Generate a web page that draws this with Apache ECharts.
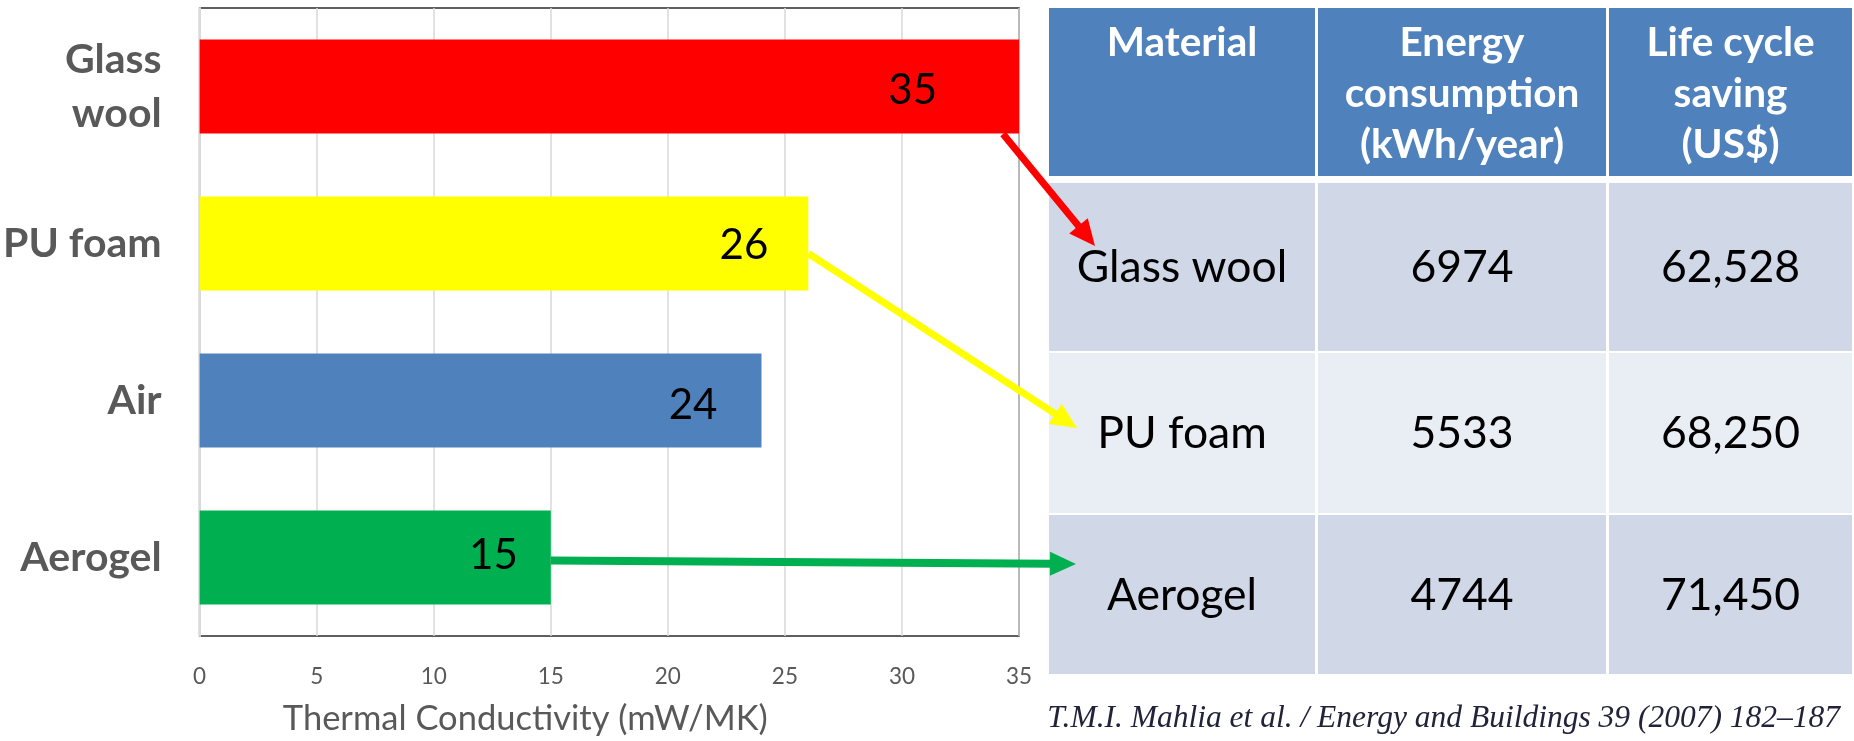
<!DOCTYPE html>
<html>
<head>
<meta charset="utf-8">
<title>Thermal conductivity of insulation materials</title>
<script src="https://cdn.jsdelivr.net/npm/echarts/dist/echarts.min.js"></script>
<style>
  html, body { margin: 0; padding: 0; background: #ffffff; }
  #chart { width: 1854px; height: 741px; }
</style>
</head>
<body>
<div id="chart"></div>
<script>
// Bar chart data
const categories = ['Glass\nwool', 'PU foam', 'Air', 'Aerogel'];
const conductivity = [35, 26, 24, 15];
const barColors = ['#FF0000', '#FFFF00', '#4F81BD', '#00B050'];
const axisTitle = 'Thermal Conductivity (mW/MK)';

// Comparison table data
const tableHeader = ['Material', 'Energy\nconsumption\n(kWh/year)', 'Life cycle\nsaving\n(US$)'];
const tableMaterials = ['Glass wool', 'PU foam', 'Aerogel'];
const energyConsumption = [6974, 5533, 4744];
const lifeCycleSaving = [62528, 68250, 71450];
const citation = 'T.M.I. Mahlia et al. / Energy and Buildings 39 (2007) 182\u2013187';

// Which bar points at which table row
const arrowLinks = [
  { bar: 0, row: 0 },
  { bar: 1, row: 1 },
  { bar: 3, row: 2 }
];

const FONT = 'Lato, "Open Sans", sans-serif';

// Table geometry
const table = {
  cols: [[1049, 1315], [1318, 1606], [1609, 1852]],
  header: [8, 176],
  rows: [[183, 351], [353, 513], [515, 674]],
  headerColor: '#4F81BD',
  rowColors: ['#D0D8E8', '#E9EDF4', '#D0D8E8']
};

// Per-bar label inset from the bar end, and arrow geometry
const labelInset = [82, 40, 44, 33];
const labelShift = [4, 2, 5, -2];
const arrowStyle = [
  { start: [-16, 47.5], tip: [46, 63], width: 7 },
  { start: [0, 10], tip: [28, 75], width: 7 },
  { start: [0, 3], tip: [27, 49], width: 8 }
];

const chart = echarts.init(document.getElementById('chart'), null, { renderer: 'canvas' });

const barData = conductivity.map((v, i) => ({
  value: v,
  itemStyle: { color: barColors[i] },
  label: { distance: labelInset[i], offset: [0, labelShift[i]] }
}));

const option = {
  backgroundColor: '#ffffff',
  animation: false,
  grid: {
    left: 197.6, right: 835, top: 8, bottom: 101,
    show: true, borderColor: '#2b2b2b', borderWidth: 1.5, backgroundColor: 'transparent'
  },
  xAxis: {
    type: 'value', min: 0, max: 35, interval: 5,
    axisLine: { show: false },
    axisTick: { show: false },
    splitLine: { show: true, lineStyle: { color: '#d9d9d9', width: 1.5 } },
    axisLabel: { color: '#595959', fontFamily: FONT, fontSize: 22.5, margin: 29 },
    name: axisTitle,
    nameLocation: 'middle',
    nameGap: 65,
    nameTextStyle: { color: '#595959', fontFamily: FONT, fontSize: 34.5, padding: [0, 168, 0, 0] }
  },
  yAxis: {
    type: 'category', data: categories, inverse: true,
    axisLine: { show: true, lineStyle: { color: '#d9d9d9', width: 2 } },
    axisTick: { show: false },
    splitLine: { show: false },
    axisLabel: {
      color: '#595959', fontFamily: FONT, fontSize: 41, fontWeight: 'bold',
      lineHeight: 54, margin: 38, align: 'right'
    }
  },
  series: [{
    type: 'bar',
    data: barData,
    barCategoryGap: '40%',
    label: {
      show: true, position: 'insideRight',
      color: '#000000', fontFamily: FONT, fontSize: 42
    }
  }]
};

chart.setOption(option);

function buildGraphics() {
  const g = [];
  const [hy0, hy1] = table.header;
  // header cells
  table.cols.forEach(([x0, x1], c) => {
    g.push({ type: 'rect', shape: { x: x0, y: hy0, width: x1 - x0, height: hy1 - hy0 },
      style: { fill: table.headerColor }, z: 1 });
    g.push({ type: 'text', z: 2, style: {
      text: tableHeader[c], x: (x0 + x1) / 2, y: 17,
      align: 'center', verticalAlign: 'top', lineHeight: 51,
      fontFamily: FONT, fontSize: 40.5, fontWeight: 'bold', fill: '#ffffff'
    }});
  });
  // body cells
  table.rows.forEach(([y0, y1], r) => {
    const cells = [tableMaterials[r], String(energyConsumption[r]), lifeCycleSaving[r].toLocaleString('en-US')];
    table.cols.forEach(([x0, x1], c) => {
      g.push({ type: 'rect', shape: { x: x0, y: y0, width: x1 - x0, height: y1 - y0 },
        style: { fill: table.rowColors[r] }, z: 1 });
      g.push({ type: 'text', z: 2, style: {
        text: cells[c], x: (x0 + x1) / 2, y: (y0 + y1) / 2 + 1,
        align: 'center', verticalAlign: 'middle',
        fontFamily: FONT, fontSize: 44.5, fill: '#000000'
      }});
    });
  });
  // source reference
  g.push({ type: 'text', z: 2, style: {
    text: citation, x: 1840, y: 719, align: 'right', verticalAlign: 'middle',
    fontFamily: '"Liberation Serif", "DejaVu Serif", serif', fontStyle: 'italic',
    fontSize: 31.5, fill: '#22223a'
  }});
  // arrows from bar ends to table rows
  arrowLinks.forEach((link, k) => {
    const st = arrowStyle[k];
    const endX = chart.convertToPixel({ xAxisIndex: 0 }, conductivity[link.bar]);
    const cy = chart.convertToPixel({ yAxisIndex: 0 }, link.bar);
    const sx = endX + st.start[0], sy = cy + st.start[1];
    const tx = table.cols[0][0] + st.tip[0], ty = table.rows[link.row][0] + st.tip[1];
    const dx = tx - sx, dy = ty - sy, len = Math.hypot(dx, dy);
    const ux = dx / len, uy = dy / len, px = -uy, py = ux;
    const headL = 26, headW = 24;
    const bx = tx - ux * headL, by = ty - uy * headL;
    const color = barColors[link.bar];
    g.push({ type: 'line', z: 5, shape: { x1: sx, y1: sy, x2: bx + ux * 2, y2: by + uy * 2 },
      style: { stroke: color, lineWidth: st.width } });
    g.push({ type: 'polygon', z: 5, shape: { points: [
      [tx, ty], [bx + px * headW / 2, by + py * headW / 2], [bx - px * headW / 2, by - py * headW / 2]
    ] }, style: { fill: color } });
  });
  return g;
}

chart.setOption({ graphic: buildGraphics() });
</script>
</body>
</html>
